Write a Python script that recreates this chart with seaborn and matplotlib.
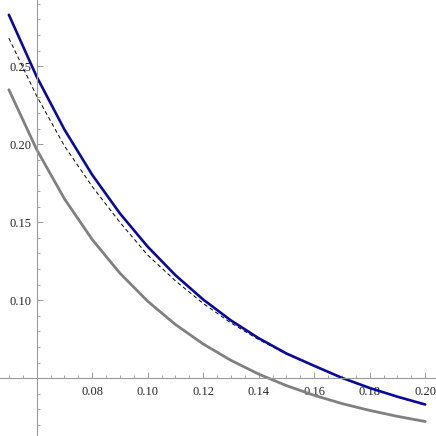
import numpy as np
import pandas as pd
import seaborn as sns
import matplotlib.pyplot as plt
from matplotlib.ticker import MultipleLocator

# values
x_vals = [0.05, 0.06, 0.07, 0.08, 0.09, 0.10, 0.11, 0.12,
          0.13, 0.14, 0.15, 0.16, 0.17, 0.18, 0.19, 0.20]
blue_vals = [0.283, 0.2434, 0.2095, 0.1805, 0.1557, 0.1344, 0.1161, 0.1005,
             0.0871, 0.0757, 0.0659, 0.0580, 0.0503, 0.0438, 0.0382, 0.0332]
dashed_vals = [0.268, 0.231, 0.199, 0.173, 0.150, 0.129, 0.1125, 0.098,
               0.0855, 0.0748, 0.0655, 0.0577, 0.0500, 0.0435, 0.0379, 0.0329]
gray_vals = [0.235, 0.1967, 0.1651, 0.1390, 0.1174, 0.0994, 0.0845, 0.0720,
             0.0615, 0.0527, 0.0453, 0.0391, 0.0338, 0.0294, 0.0256, 0.0223]

x_ticks = [0.08, 0.10, 0.12, 0.14, 0.16, 0.18, 0.20]
y_ticks = [0.10, 0.15, 0.20, 0.25]
origin = (0.06, 0.05)

df = pd.DataFrame({"x": x_vals, "blue": blue_vals,
                   "dashed": dashed_vals, "gray": gray_vals})

sns.set_style("white")
plt.rcParams['font.family'] = ['Liberation Serif', 'DejaVu Serif']

fig = plt.figure(figsize=(4.36, 4.36), dpi=100)
ax = fig.add_axes([0, 0, 1, 1])

sns.lineplot(data=df, x="x", y="gray", color="#808080", linewidth=2.0, ax=ax)
sns.lineplot(data=df, x="x", y="dashed", color="black", linewidth=0.7,
             linestyle=(0, (4, 3)), ax=ax)
sns.lineplot(data=df, x="x", y="blue", color="#0a0a9e", linewidth=1.9, ax=ax)

ax.set_xlim(0.0468, 0.2039)
ax.set_ylim(0.0130, 0.2925)
ax.set_xlabel("")
ax.set_ylabel("")

for s in ["top", "right"]:
    ax.spines[s].set_visible(False)
ax.spines["left"].set_position(("data", origin[0]))
ax.spines["bottom"].set_position(("data", origin[1]))
for s in ["left", "bottom"]:
    ax.spines[s].set_color("#9a9a9a")
    ax.spines[s].set_linewidth(0.8)

ax.set_xticks(x_ticks)
ax.set_xticklabels([f"{t:.2f}" for t in x_ticks])
ax.set_yticks(y_ticks)
ax.set_yticklabels([f"{t:.2f}" for t in y_ticks])
ax.xaxis.set_minor_locator(MultipleLocator(0.005))
ax.yaxis.set_minor_locator(MultipleLocator(0.01))

ax.tick_params(bottom=True, left=True, which="both")
ax.tick_params(axis="x", which="major", direction="in", length=4.5, width=0.7,
               color="#9a9a9a", labelsize=9, pad=5.5)
ax.tick_params(axis="y", which="major", direction="in", length=4.5, width=0.7,
               color="#9a9a9a", labelsize=9, pad=4)
ax.tick_params(which="minor", direction="in", length=2.5, width=0.6,
               color="#9a9a9a")

fig.savefig("out.png", dpi=100)
